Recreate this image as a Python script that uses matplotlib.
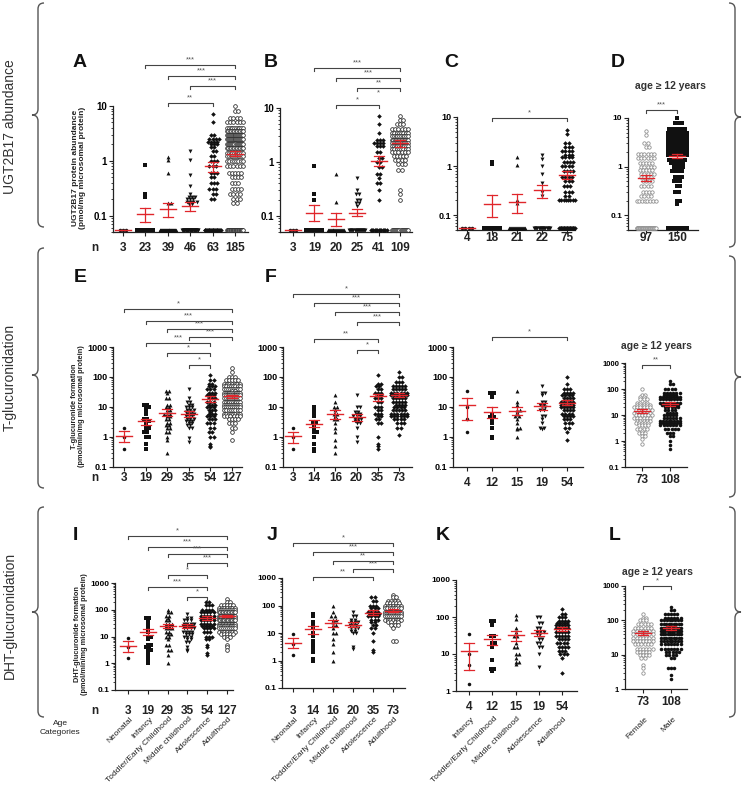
import numpy as np
import matplotlib
matplotlib.use("Agg")
import matplotlib.pyplot as plt
from matplotlib.path import Path
from matplotlib.patches import PathPatch
from matplotlib.ticker import LogLocator, NullFormatter

plt.rcParams['font.family'] = ['Liberation Sans', 'DejaVu Sans']

W, H = 744, 789
RED = '#e0262b'
LLOQ = 0.055

# ── data: (value, count) rows per group, mean, SEM limits, n, significance ──
A_n = [3, 23, 39, 46, 63, 185]
A_pts = [
    [(LLOQ, 3)],
    [(0.85, 1), (0.25, 1), (0.22, 1), (LLOQ, 20)],
    [(1.15, 1), (1.05, 1), (0.6, 1), (0.17, 2), (LLOQ, 34)],
    [(1.5, 1), (1.05, 1), (0.55, 1), (0.35, 1), (0.25, 1), (0.22, 3), (0.2, 3), (0.18, 4), (0.16, 2), (LLOQ, 29)],
    [(7, 1), (5, 1), (3, 2), (2.5, 4), (2.2, 4), (2, 3), (1.8, 2), (1.5, 2), (1.2, 2), (1, 3), (0.8, 3),
     (0.6, 3), (0.5, 2), (0.4, 3), (0.3, 3), (0.25, 2), (0.2, 2), (LLOQ, 21)],
    [(10, 1), (8, 2), (6, 4), (5, 6), (4, 10), (3.5, 12), (3, 18), (2.5, 18), (2, 16), (1.7, 12), (1.4, 10),
     (1.2, 10), (1, 8), (0.8, 6), (0.6, 5), (0.5, 4), (0.4, 3), (0.3, 4), (0.25, 4), (0.2, 3), (0.17, 2), (LLOQ, 27)],
]
A_mean = [LLOQ, 0.105, 0.13, 0.15, 0.8, 1.35]
A_lo = [LLOQ, 0.075, 0.095, 0.12, 0.62, 1.2]
A_hi = [LLOQ, 0.14, 0.17, 0.18, 0.95, 1.5]
A_sig = [(1, 5, '***'), (2, 5, '***'), (3, 5, '***'), (2, 4, '**')]

B_n = [3, 19, 20, 25, 41, 109]
B_pts = [
    [(LLOQ, 3)],
    [(0.85, 1), (0.25, 1), (0.2, 1), (LLOQ, 16)],
    [(0.6, 1), (0.18, 1), (LLOQ, 18)],
    [(0.5, 1), (0.3, 1), (0.25, 2), (0.2, 2), (0.17, 2), (0.15, 1), (LLOQ, 16)],
    [(7, 1), (5, 1), (3.5, 1), (2.5, 3), (2.2, 4), (2, 3), (1.5, 2), (1.2, 2), (1, 2), (0.8, 2), (0.6, 2),
     (0.5, 1), (0.4, 2), (0.3, 1), (0.2, 1), (LLOQ, 13)],
    [(7, 1), (6, 2), (5, 3), (4, 6), (3.5, 8), (3, 10), (2.5, 12), (2.2, 10), (2, 10), (1.7, 8), (1.5, 6),
     (1.3, 5), (1.1, 4), (0.9, 3), (0.7, 2), (0.3, 1), (0.25, 1), (0.2, 1), (LLOQ, 16)],
]
B_mean = [LLOQ, 0.115, 0.088, 0.115, 1.05, 2.2]
B_lo = [LLOQ, 0.08, 0.065, 0.098, 0.85, 1.9]
B_hi = [LLOQ, 0.16, 0.115, 0.135, 1.3, 2.5]
B_sig = [(1, 5, '***'), (2, 5, '***'), (3, 5, '**'), (4, 4, '*'), (2, 4, '*')]

C_n = [4, 18, 21, 22, 75]
C_pts = [
    [(LLOQ, 4)],
    [(1.2, 1), (1.1, 1), (LLOQ, 16)],
    [(1.5, 1), (1.05, 1), (0.2, 1), (0.18, 1), (LLOQ, 17)],
    [(1.7, 1), (1.4, 1), (1, 1), (0.7, 1), (0.45, 1), (0.3, 1), (0.25, 1), (LLOQ, 15)],
    [(5.5, 1), (4.5, 1), (3, 2), (2.5, 3), (2, 4), (1.7, 3), (1.5, 4), (1.2, 4), (1, 4), (0.8, 4), (0.6, 4),
     (0.5, 3), (0.4, 3), (0.3, 3), (0.25, 2), (0.2, 8), (LLOQ, 22)],
]
C_mean = [LLOQ, 0.17, 0.19, 0.32, 0.65]
C_lo = [LLOQ, 0.09, 0.11, 0.22, 0.55]
C_hi = [LLOQ, 0.26, 0.27, 0.42, 0.78]
C_sig = [(1, 4, '*')]

D_n = [97, 150]
D_pts = [
    [(5.5, 1), (4.5, 1), (3, 2), (2.5, 2), (1.8, 6), (1.5, 6), (1.2, 5), (1, 5), (0.85, 5), (0.7, 5), (0.6, 4),
     (0.5, 4), (0.4, 4), (0.3, 4), (0.25, 4), (0.2, 8), (LLOQ, 31)],
    [(10, 1), (8, 3), (6, 6), (5, 8), (4, 10), (3.5, 10), (3, 12), (2.5, 12), (2.2, 10), (2, 10), (1.7, 8),
     (1.4, 6), (1.2, 5), (1, 4), (0.8, 4), (0.6, 3), (0.5, 3), (0.4, 2), (0.3, 2), (0.2, 2), (0.17, 1), (LLOQ, 28)],
]
D_mean = [0.58, 1.65]
D_lo = [0.5, 1.5]
D_hi = [0.66, 1.8]
D_sig = [(0, 1, '***')]

E_n = [3, 19, 29, 35, 54, 127]
E_pts = [
    [(2, 1), (1, 1), (0.4, 1)],
    [(12, 2), (10, 2), (8, 1), (6, 1), (4, 2), (3.5, 2), (3, 1), (2, 2), (1.5, 2), (1, 2), (0.6, 1), (0.4, 1)],
    [(35, 2), (30, 1), (20, 2), (12, 2), (10, 2), (8, 2), (6, 3), (5, 2), (4, 2), (3, 2), (2.5, 2), (2, 2),
     (1.5, 2), (1, 1), (0.8, 1), (0.3, 1)],
    [(40, 1), (20, 1), (15, 2), (12, 2), (10, 3), (8, 3), (7, 3), (6, 3), (5, 3), (4, 3), (3.5, 3), (3, 2),
     (2.5, 2), (2, 2), (0.9, 1), (0.7, 1)],
    [(120, 1), (80, 2), (60, 2), (50, 3), (40, 3), (30, 3), (25, 3), (20, 3), (15, 3), (12, 3), (10, 3), (8, 3),
     (7, 1), (6, 3), (5, 3), (4, 3), (3, 3), (2, 2), (1.5, 2), (1, 2), (0.6, 1), (0.5, 1), (0.45, 1)],
    [(200, 1), (150, 1), (100, 3), (80, 5), (60, 7), (50, 8), (40, 9), (35, 2), (30, 10), (25, 10), (20, 10),
     (15, 10), (12, 9), (10, 9), (8, 8), (6, 8), (5, 6), (4, 4), (3, 3), (2, 2), (1.5, 1), (0.8, 1)],
]
E_mean = [1.1, 3.3, 6.5, 6.0, 19, 23]
E_lo = [0.7, 2.5, 5.0, 4.7, 15, 20]
E_hi = [1.6, 4.0, 8.5, 7.5, 24, 26]
E_sig = [(0, 5, '*'), (1, 5, '***'), (2, 5, '***'), (3, 5, '***'), (1, 4, '***'), (2, 4, '*'), (3, 4, '*')]

F_n = [3, 14, 16, 20, 35, 73]
F_pts = [
    [(2, 1), (1, 1), (0.4, 1)],
    [(10, 1), (8, 1), (6, 1), (5, 1), (3, 2), (2.5, 1), (2, 1), (1.5, 2), (1, 1), (0.6, 1), (0.4, 1), (0.35, 1)],
    [(25, 1), (15, 1), (10, 2), (8, 1), (6, 2), (5, 1), (4, 2), (3, 1), (2, 1), (1.5, 1), (0.8, 1), (0.5, 1), (0.3, 1)],
    [(25, 1), (10, 2), (7, 2), (6, 2), (5, 3), (4, 3), (3.5, 2), (3, 2), (2, 1), (1, 1), (0.7, 1)],
    [(120, 1), (60, 2), (50, 2), (40, 2), (30, 3), (25, 2), (20, 3), (15, 2), (10, 3), (8, 2), (6, 3), (5, 2),
     (4, 2), (3, 2), (1, 1), (0.6, 1), (0.5, 1), (0.4, 1)],
    [(150, 1), (100, 2), (70, 3), (50, 5), (40, 5), (30, 6), (25, 6), (20, 5), (15, 5), (12, 4), (10, 4), (8, 5),
     (6, 6), (5, 6), (4, 4), (3, 3), (2, 2), (1.2, 1)],
]
F_mean = [1.05, 2.8, 5.8, 4.5, 23, 26]
F_lo = [0.65, 2.1, 4.0, 3.5, 16, 22]
F_hi = [1.5, 3.6, 8.0, 5.7, 28, 30]
F_sig = [(0, 5, '*'), (1, 5, '***'), (2, 5, '***'), (3, 5, '***'), (1, 4, '**'), (3, 4, '*')]

G_n = [4, 12, 15, 19, 54]
G_pts = [
    [(35, 1), (10, 1), (4, 1), (1.5, 1)],
    [(30, 2), (22, 1), (6, 1), (5, 1), (4.5, 2), (4, 1), (3, 1), (2, 1), (1, 1), (0.9, 1)],
    [(35, 1), (15, 1), (12, 1), (8, 2), (7, 1), (6, 1), (5, 2), (4, 1), (3, 1), (2, 2), (1.8, 1), (1, 1)],
    [(50, 1), (30, 2), (25, 1), (15, 2), (12, 2), (10, 2), (8, 2), (5, 2), (4, 1), (3, 1), (2, 2), (1.8, 1)],
    [(100, 1), (60, 1), (40, 3), (30, 4), (25, 4), (20, 4), (15, 5), (12, 5), (10, 5), (8, 4), (6, 4), (5, 4),
     (4, 3), (3, 3), (2, 2), (1.5, 1), (0.8, 1)],
]
G_mean = [12, 7, 7.5, 10.5, 14]
G_lo = [3.7, 4.3, 5.3, 8, 12]
G_hi = [20, 10, 10, 13.5, 17]
G_sig = [(1, 4, '*')]

H_n = [73, 108]
H_pts = [
    [(100, 1), (60, 2), (50, 2), (40, 3), (30, 4), (25, 5), (20, 6), (15, 6), (12, 6), (10, 6), (8, 6), (6, 5),
     (5, 5), (4, 4), (3, 4), (2.5, 1), (2, 3), (1.5, 2), (1.2, 1), (0.8, 1)],
    [(200, 1), (150, 2), (100, 4), (70, 6), (60, 5), (50, 8), (40, 8), (30, 8), (25, 6), (20, 5), (15, 4), (12, 4),
     (10, 5), (8, 6), (6, 8), (5, 8), (4, 7), (3, 5), (2, 3), (1.5, 2), (1, 1), (0.7, 1), (0.5, 1)],
]
H_mean = [14, 27]
H_lo = [12, 23]
H_hi = [16.5, 32]
H_sig = [(0, 1, '**')]

I_n = [3, 19, 29, 35, 54, 127]
I_pts = [
    [(9, 1), (4, 1), (1.6, 1)],
    [(50, 2), (40, 1), (30, 1), (20, 1), (15, 1), (10, 2), (8, 1), (5, 2), (4, 2), (3, 2), (2.5, 1), (2, 1),
     (1.5, 1), (1, 1)],
    [(100, 1), (80, 2), (60, 2), (50, 1), (40, 2), (30, 3), (25, 2), (20, 3), (15, 2), (12, 2), (10, 2), (8, 1),
     (5, 2), (3, 2), (2, 1), (1, 1)],
    [(70, 1), (50, 2), (40, 3), (30, 4), (25, 4), (20, 4), (15, 4), (12, 3), (10, 3), (8, 2), (6, 2), (4, 1),
     (3, 1), (2.8, 1)],
    [(200, 2), (150, 3), (100, 4), (80, 5), (60, 5), (50, 5), (40, 5), (30, 5), (25, 4), (20, 4), (15, 3),
     (10, 3), (8, 2), (5, 1), (4, 1), (2.5, 1), (2, 1)],
    [(250, 1), (200, 2), (150, 5), (120, 7), (100, 9), (80, 12), (60, 14), (50, 14), (40, 13), (30, 12),
     (25, 10), (20, 9), (15, 7), (12, 5), (10, 3), (8, 1), (5, 1), (4, 1), (3, 1)],
]
I_mean = [4.5, 15, 25, 25, 48, 58]
I_lo = [2.7, 11, 20, 20, 40, 52]
I_hi = [7, 19, 30, 30, 58, 66]
I_sig = [(0, 5, '*'), (1, 5, '***'), (2, 5, '***'), (3, 5, '***'), (2, 4, '*'), (1, 4, '***'), (3, 4, '*')]

J_n = [3, 14, 16, 20, 35, 73]
J_pts = [
    [(9, 1), (4, 1), (1.6, 1)],
    [(50, 1), (40, 1), (25, 1), (18, 1), (15, 1), (10, 1), (8, 1), (5, 1), (4, 1), (3, 1), (2.5, 1), (2, 1),
     (1.1, 1), (1, 1)],
    [(100, 1), (60, 1), (40, 2), (30, 2), (25, 1), (20, 2), (15, 1), (10, 2), (6, 1), (4, 1), (2, 1), (1, 1)],
    [(60, 1), (40, 2), (30, 2), (25, 3), (20, 3), (15, 3), (12, 2), (10, 2), (3, 1), (2.7, 1)],
    [(200, 2), (150, 2), (100, 3), (80, 3), (60, 4), (50, 4), (40, 4), (30, 3), (25, 2), (20, 2), (15, 2),
     (10, 1), (5, 1), (2.5, 1), (2, 1)],
    [(250, 1), (200, 2), (150, 4), (120, 5), (100, 7), (80, 8), (60, 10), (50, 10), (40, 9), (30, 7), (25, 4),
     (20, 3), (15, 1), (5, 2)],
]
J_mean = [4.5, 14, 23, 20, 55, 65]
J_lo = [2.9, 9.5, 17, 16, 45, 58]
J_hi = [6.5, 18, 29, 25, 68, 72]
J_sig = [(0, 5, '*'), (1, 5, '***'), (2, 5, '**'), (3, 5, '***'), (1, 4, '**')]

K_n = [4, 12, 15, 19, 54]
K_pts = [
    [(35, 1), (10, 1), (5, 1), (1.5, 1)],
    [(80, 2), (60, 1), (30, 2), (20, 2), (15, 1), (7, 1), (4, 2), (3.5, 1)],
    [(110, 1), (90, 1), (50, 1), (40, 1), (30, 2), (20, 1), (15, 2), (10, 2), (8, 1), (6, 2), (5.5, 1)],
    [(100, 2), (70, 2), (50, 2), (40, 3), (35, 2), (25, 2), (20, 2), (15, 2), (10, 1), (4.5, 1)],
    [(160, 1), (120, 2), (100, 3), (80, 4), (70, 4), (60, 5), (50, 5), (40, 5), (30, 5), (25, 4), (20, 4),
     (15, 4), (12, 3), (10, 3), (8, 1), (3, 1)],
]
K_mean = [12, 25, 32, 38, 47]
K_lo = [3.8, 18, 23, 31, 41]
K_hi = [20, 33, 41, 45, 53]
K_sig = []

L_n = [73, 108]
L_pts = [
    [(150, 1), (120, 2), (100, 3), (80, 5), (60, 6), (50, 7), (40, 7), (35, 2), (30, 7), (25, 7), (20, 6),
     (15, 6), (12, 5), (10, 4), (8, 2), (5, 1), (4, 1), (3, 1)],
    [(250, 1), (200, 2), (150, 5), (120, 6), (100, 8), (80, 9), (60, 10), (50, 10), (40, 10), (30, 9), (25, 8),
     (20, 7), (15, 7), (12, 5), (10, 4), (8, 2), (4, 3), (2.5, 1), (2, 1)],
]
L_mean = [42, 60]
L_lo = [37, 53]
L_hi = [48, 67]
L_sig = [(0, 1, '*')]

AGE6 = ['Neonatal', 'Infancy', 'Toddler/Early Childhood', 'Middle childhood', 'Adolescence', 'Adulthood']
AGE5 = AGE6[1:]
SEX = ['Female', 'Male']

# ── layout (pixels) ───────────────────────────────────────────────────────────
M6 = ['o', 's', '^', 'v', 'D', 'oo']
M5 = ['o', 's', '^', 'v', 'D']
LAY = {
    'A': dict(box=(113, 106, 248, 232), x0=123, gap=22.4, ny=248, letter=(80, 62), mk=M6, tfs=7,
              sig_y=[65, 76, 86, 103]),
    'B': dict(box=(280, 108, 412, 232), x0=293, gap=21.4, ny=248, letter=(271, 62), mk=M6, tfs=7,
              sig_y=[68, 78, 88, 98, 105]),
    'C': dict(box=(457, 117, 575, 230), x0=467, gap=25, ny=238, letter=(451, 62), mk=M5, tfs=6.5,
              sig_y=[118]),
    'D': dict(box=(628, 118, 698, 230), x0=646, gap=31, ny=238, letter=(618, 62), mk=['og', 's'], tfs=6,
              sig_y=[110], wmax=19),
    'E': dict(box=(113, 347, 242, 467), x0=124, gap=21.6, ny=478, letter=(80, 277), mk=M6, tfs=6.5,
              sig_y=[309, 321, 329, 337, 343, 353, 365]),
    'F': dict(box=(283, 347, 412, 467), x0=293, gap=21.2, ny=478, letter=(271, 277),
              mk=['o', 's', '^', 'v', 'D', 'D'], tfs=6.5, sig_y=[294, 303, 312, 322, 339, 350]),
    'G': dict(box=(453, 347, 583, 467), x0=467, gap=25, ny=483, letter=None, mk=M5, tfs=6.5, sig_y=[337]),
    'H': dict(box=(625, 363, 687, 467), x0=642, gap=28, ny=480, letter=None, mk=['og', 'o'], tfs=5.5,
              sig_y=[365], wmax=20),
    'I': dict(box=(115, 583, 233, 690), x0=128, gap=19.8, ny=711, letter=(75, 535), mk=M6, tfs=6,
              sig_y=[536, 547, 554, 563, 575, 587, 597]),
    'J': dict(box=(282, 578, 405, 688), x0=293, gap=20, ny=711, letter=(272, 535), mk=M6, tfs=6,
              sig_y=[543, 552, 561, 569, 577]),
    'K': dict(box=(456, 580, 577, 691), x0=469, gap=23.25, ny=707, letter=(443, 535), mk=M5, tfs=6,
              sig_y=[]),
    'L': dict(box=(625, 586, 687, 689), x0=643, gap=28, ny=702, letter=(615, 535), mk=['og', 'o'], tfs=5.5,
              sig_y=[586], wmax=20),
}

STYLE = {
    'o': dict(marker='o', s=6.5, c='#111111', linewidths=0),
    's': dict(marker='s', s=6, c='#111111', linewidths=0),
    '^': dict(marker='^', s=8, c='#111111', linewidths=0),
    'v': dict(marker='v', s=8, c='#111111', linewidths=0),
    'D': dict(marker='D', s=5.5, c='#111111', linewidths=0),
    'oo': dict(marker='o', s=7, facecolors='white', edgecolors='#222222', linewidths=0.55),
    'og': dict(marker='o', s=6, facecolors='white', edgecolors='#888888', linewidths=0.55),
}

fig = plt.figure(figsize=(W / 100, H / 100), dpi=100, facecolor='white')
ov = fig.add_axes([0, 0, 1, 1])
ov.set_xlim(0, W)
ov.set_ylim(H, 0)
ov.axis('off')


def gx(lay, i):
    return lay['x0'] + i * lay['gap']


def panel(key, pts, mean, lo, hi, n, sig, ylim, ticks):
    lay = LAY[key]
    l, t, r, b = lay['box']
    ax = fig.add_axes([l / W, 1 - b / H, (r - l) / W, (b - t) / H])
    ax.patch.set_alpha(0)
    gap = lay['gap']
    ax.set_xlim((l - lay['x0']) / gap, (r - lay['x0']) / gap)
    ax.set_yscale('log')
    ax.set_ylim(*ylim)
    wmax = lay.get('wmax', 16) / gap
    for i, grp in enumerate(pts):
        xs, ys = [], []
        for row, (v, k) in enumerate(grp):
            dx = min(3.2 / gap, wmax / max(k - 1, 1))
            off = (np.arange(k) - (k - 1) / 2) * dx
            if k > 1 and row % 2 and k * dx < wmax:
                off = off + dx / 2
            xs.extend(i + off)
            ys.extend([v] * k)
        ax.scatter(xs, ys, zorder=3, clip_on=False, **STYLE[lay['mk'][i]])
    mh, ch = 8.0 / gap, 5.0 / gap
    for i in range(len(mean)):
        ax.plot([i - mh, i + mh], [mean[i]] * 2, color=RED, lw=1.0, zorder=5, clip_on=False)
        if hi[i] > lo[i]:
            ax.plot([i, i], [lo[i], hi[i]], color=RED, lw=0.9, zorder=5)
            for yy in (lo[i], hi[i]):
                ax.plot([i - ch, i + ch], [yy, yy], color=RED, lw=0.9, zorder=5)
    for s in ('top', 'right'):
        ax.spines[s].set_visible(False)
    for s in ('left', 'bottom'):
        ax.spines[s].set_linewidth(0.9)
        ax.spines[s].set_color('#222222')
    ax.set_yticks(ticks, [('%g' % v) for v in ticks])
    ax.yaxis.set_minor_locator(LogLocator(base=10, subs=np.arange(2, 10)))
    ax.yaxis.set_minor_formatter(NullFormatter())
    ax.set_xticks(range(len(n)), [''] * len(n))
    ax.tick_params(axis='both', which='major', length=3, width=0.8, color='#222222',
                   labelsize=lay['tfs'], pad=1.2)
    ax.tick_params(axis='y', which='minor', length=1.5, width=0.6, color='#222222')
    for lab in ax.get_yticklabels():
        lab.set_fontweight('bold')
    # n labels
    for i, v in enumerate(n):
        ov.text(gx(lay, i), lay['ny'], str(v), ha='center', va='center', fontsize=8.5,
                fontweight='bold', color='#222222')
    # significance brackets
    for (i, j, lab), y in zip(sig, lay['sig_y']):
        x1, x2 = gx(lay, i), gx(lay, j)
        if j > i:
            ov.plot([x1, x1, x2, x2], [y + 3, y, y, y + 3], color='#444444', lw=0.8)
        ov.text((x1 + x2) / 2, y - 1.2, lab, ha='center', va='bottom', fontsize=5.5, color='#555555')
    if lay['letter']:
        ov.text(*lay['letter'], key, ha='center', va='center', fontsize=14, fontweight='bold', color='#111111')
    return ax


T3 = [0.1, 1, 10]
T5 = [0.1, 1, 10, 100, 1000]
T4 = [1, 10, 100, 1000]
panel('A', A_pts, A_mean, A_lo, A_hi, A_n, A_sig, (0.05, 10), T3)
panel('B', B_pts, B_mean, B_lo, B_hi, B_n, B_sig, (0.05, 10), T3)
panel('C', C_pts, C_mean, C_lo, C_hi, C_n, C_sig, (0.05, 10), T3)
panel('D', D_pts, D_mean, D_lo, D_hi, D_n, D_sig, (0.05, 10), T3)
panel('E', E_pts, E_mean, E_lo, E_hi, E_n, E_sig, (0.1, 1000), T5)
panel('F', F_pts, F_mean, F_lo, F_hi, F_n, F_sig, (0.1, 1000), T5)
panel('G', G_pts, G_mean, G_lo, G_hi, G_n, G_sig, (0.1, 1000), T5)
panel('H', H_pts, H_mean, H_lo, H_hi, H_n, H_sig, (0.1, 1000), T5)
panel('I', I_pts, I_mean, I_lo, I_hi, I_n, I_sig, (0.1, 1000), T5)
panel('J', J_pts, J_mean, J_lo, J_hi, J_n, J_sig, (0.1, 1000), T5)
panel('K', K_pts, K_mean, K_lo, K_hi, K_n, K_sig, (1, 1000), T4)
panel('L', L_pts, L_mean, L_lo, L_hi, L_n, L_sig, (1, 1000), T4)

# ── y-axis titles, n markers, age notes ───────────────────────────────────────
ov.text(79, 168, 'UGT2B17 protein abundance\n(pmol/mg microsomal protein)', rotation=90,
        ha='center', va='center', fontsize=6, fontweight='bold', color='#222222', linespacing=1.1)
ov.text(78, 406, 'T-glucuronide formation\n(pmol/min/mg microsomal protein)', rotation=90,
        ha='center', va='center', fontsize=5.3, fontweight='bold', color='#222222', linespacing=1.1)
ov.text(81, 634, 'DHT-glucuronide formation\n(pmol/min/mg microsomal protein)', rotation=90,
        ha='center', va='center', fontsize=5.3, fontweight='bold', color='#222222', linespacing=1.1)
for y in (248, 478, 711):
    ov.text(95, y, 'n', ha='center', va='center', fontsize=8.5, fontweight='bold', color='#222222')
for x, y in ((670, 86), (656, 346), (657, 572)):
    ov.text(x, y, 'age \u2265 12 years', ha='center', va='center', fontsize=7.5, fontweight='bold',
            color='#333333')

# category labels under bottom row
for key, labels in (('I', AGE6), ('J', AGE6), ('K', AGE5), ('L', SEX)):
    lay = LAY[key]
    for i, lab in enumerate(labels):
        ov.text(gx(lay, i) + 4, 718, lab, rotation=45, rotation_mode='anchor', ha='right', va='center',
                fontsize=6, color='#222222')
ov.text(60, 728, 'Age\nCategories', ha='center', va='center', fontsize=6, color='#222222', linespacing=1.3)

# ── braces and row titles ─────────────────────────────────────────────────────
def brace(x, top, bot, tip, d, w=6, r=6):
    verts = [(x - d * w, top), (x, top), (x, top + r), (x, tip - r), (x, tip), (x + d * w, tip),
             (x, tip), (x, tip + r), (x, bot - r), (x, bot), (x - d * w, bot)]
    codes = [Path.MOVETO, Path.CURVE3, Path.CURVE3, Path.LINETO, Path.CURVE3, Path.CURVE3,
             Path.CURVE3, Path.CURVE3, Path.LINETO, Path.CURVE3, Path.CURVE3]
    ov.add_patch(PathPatch(Path(verts, codes), facecolor='none', edgecolor='#555555', lw=1.0))


for top, bot, tip in ((3, 227, 115), (248, 488, 375), (507, 717, 612)):
    brace(38, top, bot, tip, -1)
for top, bot, tip in ((3, 247, 117), (256, 497, 377), (507, 717, 612)):
    brace(735, top, bot, tip, 1)

for y, lab in ((127, 'UGT2B17 abundance'), (377, 'T-glucuronidation'), (615, 'DHT-glucuronidation')):
    ov.text(10, y, lab, rotation=90, ha='center', va='center', fontsize=10, color='#333333')

fig.savefig('out.png', dpi=100, facecolor='white')
